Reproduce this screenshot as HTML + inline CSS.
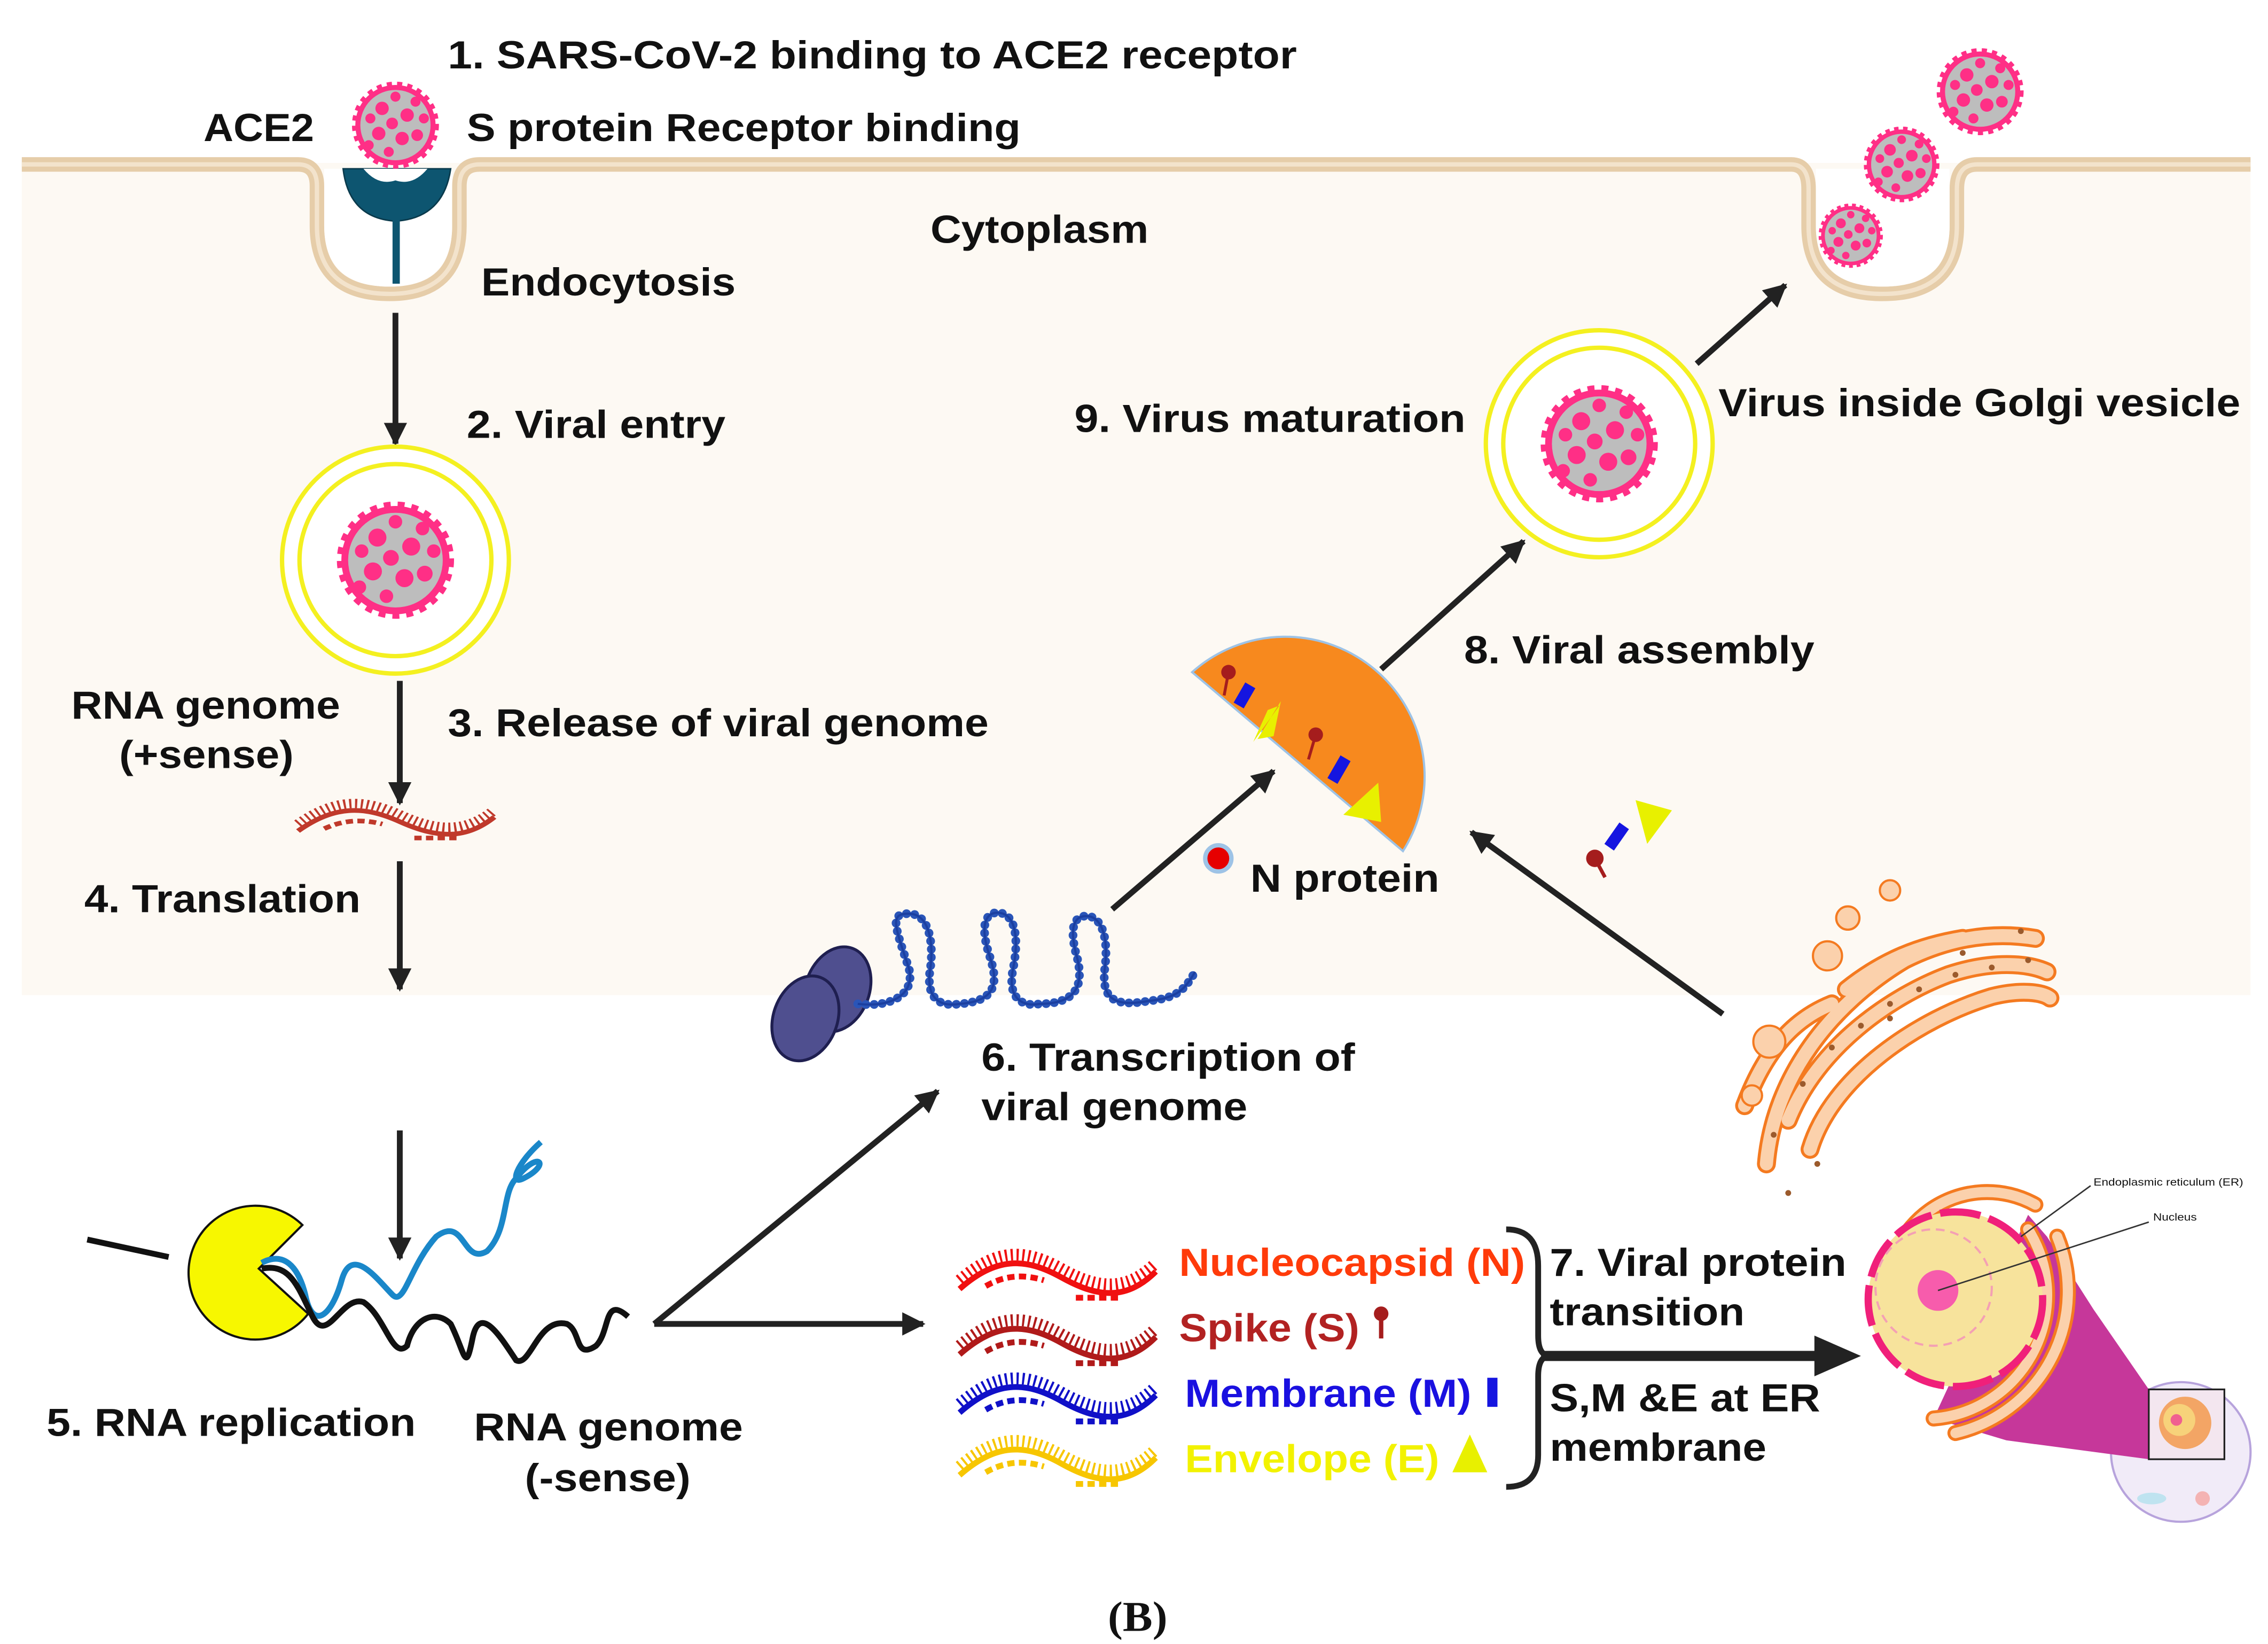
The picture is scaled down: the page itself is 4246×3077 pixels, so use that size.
<!DOCTYPE html>
<html><head><meta charset="utf-8"><style>
html,body{margin:0;padding:0;background:#fff;}
svg{display:block;}
text{font-family:"Liberation Sans",Arial,sans-serif;font-weight:bold;font-size:27px;fill:#111;}
</style></head><body>
<svg width="4246" height="3077" viewBox="0 0 1560 1130" preserveAspectRatio="none" xmlns="http://www.w3.org/2000/svg">
<defs>
<g id="vir">
<circle cx="0" cy="0" r="24" fill="#ff2f86"/>
<circle cx="0" cy="0" r="21" fill="#bdbdbd"/>
<circle cx="-8" cy="-10" r="4" fill="#ff2f86"/><circle cx="7" cy="-6" r="4" fill="#ff2f86"/>
<circle cx="-10" cy="5" r="4" fill="#ff2f86"/><circle cx="4" cy="8" r="4" fill="#ff2f86"/>
<circle cx="13" cy="6" r="3.5" fill="#ff2f86"/><circle cx="-2" cy="-1" r="3.5" fill="#ff2f86"/>
<circle cx="-15" cy="-4" r="3" fill="#ff2f86"/><circle cx="12" cy="-14" r="3" fill="#ff2f86"/>
<circle cx="-4" cy="16" r="3" fill="#ff2f86"/><circle cx="0" cy="-17" r="3" fill="#ff2f86"/>
<circle cx="17" cy="-4" r="3" fill="#ff2f86"/><circle cx="-16" cy="12" r="3" fill="#ff2f86"/>
<circle cx="0" cy="0" r="24" fill="none" stroke="#ff2f86" stroke-width="4" stroke-dasharray="3 3"/>
</g>
<g id="strand">
<path d="M0,14 C25,-8 45,-8 70,6 S115,22 135,2" fill="none" stroke="currentColor" stroke-width="4"/>
<path d="M0,8 C25,-14 45,-14 70,0 S115,16 135,-4" fill="none" stroke="currentColor" stroke-width="8" stroke-dasharray="1.5 2.5"/>
<path d="M18,12 C32,4 45,4 58,8" fill="none" stroke="currentColor" stroke-width="4" stroke-dasharray="5 3"/>
<path d="M80,20 L110,20" fill="none" stroke="currentColor" stroke-width="4" stroke-dasharray="5 3"/>
</g>
<marker id="ah" viewBox="0 0 10 10" refX="9" refY="5" markerWidth="4" markerHeight="4" orient="auto"><path d="M0,0 L10,5 L0,10 Z" fill="#222"/></marker>
</defs>

<rect x="15" y="112" width="1533" height="572" fill="#fdf9f3"/>
<path d="M15,113 H205 Q218,113 218,128 V155 Q218,202 268,202 Q316,202 316,155 V128 Q316,113 330,113 H1232 Q1244,113 1244,130 V155 Q1244,202 1295,202 Q1346,202 1346,155 V130 Q1346,113 1360,113 H1548" fill="none" stroke="#e6cda9" stroke-width="10"/>
<path d="M15,113 H205 Q218,113 218,128 V155 Q218,202 268,202 Q316,202 316,155 V128 Q316,113 330,113 H1232 Q1244,113 1244,130 V155 Q1244,202 1295,202 Q1346,202 1346,155 V130 Q1346,113 1360,113 H1548" fill="none" stroke="#f3e3cc" stroke-width="3"/>
<path d="M223,116 V155 Q223,197 268,197 Q311,197 311,155 V116 Z" fill="#fff"/>
<path d="M1249,116 V155 Q1249,197 1295,197 Q1341,197 1341,155 V116 Z" fill="#fff"/>

<path d="M236,116 L310,116 Q305,150 272,152 Q240,150 236,116 Z" fill="#0d5570" stroke="#0a3a4c" stroke-width="1"/>
<path d="M250,116 Q260,128 272,124 Q284,128 294,116 Z" fill="#fff"/>
<rect x="270" y="150" width="5" height="45" fill="#0d5570"/>
<use href="#vir" transform="translate(272,86) scale(1.15)"/>

<text x="308" y="47" textLength="584" lengthAdjust="spacingAndGlyphs">1.  SARS-CoV-2 binding to ACE2 receptor</text>
<text x="140" y="97" textLength="76" lengthAdjust="spacingAndGlyphs">ACE2</text>
<text x="321" y="97" textLength="381" lengthAdjust="spacingAndGlyphs">S protein Receptor binding</text>
<text x="640" y="167" textLength="150" lengthAdjust="spacingAndGlyphs">Cytoplasm</text>
<text x="331" y="203" textLength="175" lengthAdjust="spacingAndGlyphs">Endocytosis</text>
<text x="321" y="301" textLength="178" lengthAdjust="spacingAndGlyphs">2. Viral entry</text>
<text x="739" y="297" textLength="269" lengthAdjust="spacingAndGlyphs">9. Virus maturation</text>
<text x="1182" y="286" textLength="359" lengthAdjust="spacingAndGlyphs">Virus inside Golgi vesicle</text>
<text x="49" y="494" textLength="185" lengthAdjust="spacingAndGlyphs">RNA genome</text>
<text x="82" y="528" textLength="120" lengthAdjust="spacingAndGlyphs">(+sense)</text>
<text x="308" y="506" textLength="372" lengthAdjust="spacingAndGlyphs">3. Release of viral genome</text>
<text x="1007" y="456" textLength="241" lengthAdjust="spacingAndGlyphs">8. Viral assembly</text>
<text x="58" y="627" textLength="190" lengthAdjust="spacingAndGlyphs">4. Translation</text>
<text x="860" y="613" textLength="130" lengthAdjust="spacingAndGlyphs">N protein</text>
<text x="675" y="736" textLength="257" lengthAdjust="spacingAndGlyphs">6. Transcription of</text>
<text x="675" y="770" textLength="183" lengthAdjust="spacingAndGlyphs">viral genome</text>
<text x="32" y="987" textLength="254" lengthAdjust="spacingAndGlyphs">5. RNA replication</text>
<text x="326" y="990" textLength="185" lengthAdjust="spacingAndGlyphs">RNA genome</text>
<text x="361" y="1025" textLength="114" lengthAdjust="spacingAndGlyphs">(-sense)</text>
<text x="811" y="877" textLength="238" lengthAdjust="spacingAndGlyphs" style="fill:#ff3b0a">Nucleocapsid (N)</text>
<text x="811" y="922" textLength="124" lengthAdjust="spacingAndGlyphs" style="fill:#b22222">Spike (S)</text>
<text x="815" y="967" textLength="197" lengthAdjust="spacingAndGlyphs" style="fill:#1a10e0">Membrane (M)</text>
<text x="815" y="1012" textLength="175" lengthAdjust="spacingAndGlyphs" style="fill:#f2f200">Envelope (E)</text>
<text x="1066" y="877" textLength="204" lengthAdjust="spacingAndGlyphs">7. Viral protein</text>
<text x="1066" y="911" textLength="134" lengthAdjust="spacingAndGlyphs">transition</text>
<text x="1066" y="970" textLength="186" lengthAdjust="spacingAndGlyphs">S,M &amp;E at ER</text>
<text x="1066" y="1004" textLength="149" lengthAdjust="spacingAndGlyphs">membrane</text>
<text x="762" y="1121" style="font-family:'Liberation Serif',serif;font-size:29px" textLength="41" lengthAdjust="spacingAndGlyphs">(B)</text>

<g stroke="#222" stroke-width="4" fill="none" marker-end="url(#ah)">
<line x1="272" y1="215" x2="272" y2="305"/>
<line x1="275" y1="468" x2="275" y2="552"/>
<line x1="275" y1="592" x2="275" y2="680"/>
<line x1="275" y1="777" x2="275" y2="865"/>
<line x1="450" y1="910" x2="645" y2="750"/>
<line x1="450" y1="910" x2="635" y2="910"/>
<line x1="765" y1="625" x2="876" y2="530"/>
<line x1="950" y1="460" x2="1048" y2="372"/>
<line x1="1167" y1="250" x2="1228" y2="196"/>
<line x1="1185" y1="697" x2="1012" y2="572"/>
</g>
<line x1="1060" y1="932" x2="1250" y2="932" stroke="#222" stroke-width="7"/>
<path d="M1248,918 L1280,932 L1248,946 Z" fill="#222"/>

<circle cx="272" cy="385" r="78" fill="#fff" stroke="#f4f020" stroke-width="3"/>
<circle cx="272" cy="385" r="66" fill="none" stroke="#f4f020" stroke-width="3"/>
<use href="#vir" transform="translate(272,385) scale(1.55)"/>
<circle cx="1100" cy="305" r="78" fill="#fff" stroke="#f4f020" stroke-width="3"/>
<circle cx="1100" cy="305" r="66" fill="none" stroke="#f4f020" stroke-width="3"/>
<use href="#vir" transform="translate(1100,305) scale(1.55)"/>
<use href="#vir" transform="translate(1273,162) scale(0.85)"/>
<use href="#vir" transform="translate(1308,113) scale(1.0)"/>
<use href="#vir" transform="translate(1362,63) scale(1.15)"/>

<g style="color:#c0392b"><use href="#strand" transform="translate(205,560) scale(1.0,0.8)"/></g>

<line x1="60" y1="852" x2="116" y2="864" stroke="#111" stroke-width="4"/>
<path d="M208,842 A46,46 0 1 0 212,903 L178,872 Z" fill="#f7f700" stroke="#111" stroke-width="1.5"/>
<path d="M180,868 C195,860 205,870 210,890 C215,915 228,905 235,880 C242,855 260,880 270,890 C278,898 282,870 300,850 C320,835 318,870 335,860 C350,845 345,820 355,810 C370,790 380,800 360,810 C350,815 355,800 372,785" fill="none" stroke="#1a87c9" stroke-width="4"/>
<path d="M180,872 C200,868 205,885 215,905 C225,925 235,890 250,895 C265,905 270,935 280,925 C285,905 300,900 310,910 C320,930 320,945 325,920 C330,895 345,920 355,935 C365,940 370,905 390,910 C400,915 395,935 410,925 C420,915 415,890 432,905" fill="none" stroke="#111" stroke-width="4"/>

<ellipse cx="576" cy="680" rx="22" ry="30" transform="rotate(20 576 680)" fill="#4f4f8f" stroke="#1f1f50" stroke-width="2"/>
<ellipse cx="554" cy="700" rx="22" ry="30" transform="rotate(20 554 700)" fill="#4f4f8f" stroke="#1f1f50" stroke-width="2"/>
<path d="M590,690 C615,693 630,682 625,665 C615,635 612,628 625,628 C640,628 642,650 640,665 C636,688 648,692 660,690 C690,688 685,670 680,655 C673,632 680,625 690,628 C700,632 700,650 697,665 C692,688 705,692 715,690 C745,690 745,672 740,655 C735,635 740,628 750,630 C760,633 762,650 760,665 C757,688 768,692 790,688 C810,686 815,680 822,668" fill="none" stroke="#2a55b8" stroke-width="6" stroke-dasharray="0.1 5.5" stroke-linecap="round"/>
<path d="M590,690 C615,693 630,682 625,665 C615,635 612,628 625,628 C640,628 642,650 640,665 C636,688 648,692 660,690 C690,688 685,670 680,655 C673,632 680,625 690,628 C700,632 700,650 697,665 C692,688 705,692 715,690 C745,690 745,672 740,655 C735,635 740,628 750,630 C760,633 762,650 760,665 C757,688 768,692 790,688 C810,686 815,680 822,668" fill="none" stroke="#1b3fa0" stroke-width="1.5"/>

<path d="M820,462 A96,96 0 0 1 965,585 Z" fill="#f7891e" stroke="#9ec3e6" stroke-width="1.5"/>
<rect x="852" y="470" width="8" height="16" fill="#1515e0" transform="rotate(30 856 478)"/>
<path d="M862,510 L880,485 L872,488 Z M865,508 L881,482 L876,506 Z" fill="#e8f000"/>
<rect x="917" y="520" width="8" height="18" fill="#1515e0" transform="rotate(30 921 529)"/>
<path d="M924,560 L948,538 L950,565 Z" fill="#e8f000"/>
<circle cx="845" cy="462" r="5" fill="#a51d1d"/><line x1="845" y1="462" x2="842" y2="478" stroke="#a51d1d" stroke-width="2"/>
<circle cx="905" cy="505" r="5" fill="#a51d1d"/><line x1="905" y1="505" x2="900" y2="522" stroke="#a51d1d" stroke-width="2"/>
<circle cx="838" cy="590" r="9" fill="#e60000" stroke="#9ec3e6" stroke-width="3"/>
<path d="M1125,550 L1150,557 L1133,580 Z" fill="#e8f000"/>
<rect x="1108" y="566" width="8" height="18" fill="#1515e0" transform="rotate(35 1112 575)"/>
<circle cx="1097" cy="590" r="6" fill="#a51d1d"/><line x1="1097" y1="590" x2="1104" y2="603" stroke="#a51d1d" stroke-width="2.5"/>

<g fill="none" stroke-linecap="round">
<g stroke="#f47a20" stroke-width="13">
<path d="M1215,800 C1220,740 1260,690 1310,660 C1340,645 1370,640 1400,645"/>
<path d="M1230,770 C1250,720 1300,685 1340,670 C1370,660 1395,662 1408,668"/>
<path d="M1245,790 C1260,740 1320,700 1370,685 C1390,680 1405,682 1410,686"/>
<path d="M1200,760 C1215,720 1235,700 1260,690"/>
<path d="M1270,680 C1295,660 1320,650 1350,645"/>
</g>
<g stroke="#fbd1ac" stroke-width="9">
<path d="M1215,800 C1220,740 1260,690 1310,660 C1340,645 1370,640 1400,645"/>
<path d="M1230,770 C1250,720 1300,685 1340,670 C1370,660 1395,662 1408,668"/>
<path d="M1245,790 C1260,740 1320,700 1370,685 C1390,680 1405,682 1410,686"/>
<path d="M1200,760 C1215,720 1235,700 1260,690"/>
<path d="M1270,680 C1295,660 1320,650 1350,645"/>
</g>
</g>
<g fill="#fbd1ac" stroke="#f47a20" stroke-width="1.5">
<circle cx="1271" cy="631" r="8"/><circle cx="1257" cy="657" r="10"/><circle cx="1217" cy="716" r="11"/><circle cx="1205" cy="753" r="7"/><circle cx="1300" cy="612" r="7"/>
</g>
<g fill="#9b5a2c">
<circle cx="1220" cy="780" r="2"/><circle cx="1240" cy="745" r="2"/><circle cx="1260" cy="720" r="2"/><circle cx="1280" cy="705" r="2"/><circle cx="1300" cy="690" r="2"/><circle cx="1320" cy="680" r="2"/><circle cx="1345" cy="670" r="2"/><circle cx="1370" cy="665" r="2"/><circle cx="1395" cy="660" r="2"/><circle cx="1230" cy="820" r="2"/><circle cx="1250" cy="800" r="2"/><circle cx="1300" cy="700" r="2"/><circle cx="1350" cy="655" r="2"/><circle cx="1390" cy="640" r="2"/>
</g>

<g style="color:#f01010"><use href="#strand" transform="translate(660,872)"/></g>
<g style="color:#b01a1a"><use href="#strand" transform="translate(660,917)"/></g>
<g style="color:#1010c8"><use href="#strand" transform="translate(660,957)"/></g>
<g style="color:#f7c600"><use href="#strand" transform="translate(660,1000)"/></g>
<circle cx="950" cy="903" r="5" fill="#a51d1d"/><line x1="950" y1="903" x2="950" y2="920" stroke="#a51d1d" stroke-width="3"/>
<rect x="1023" y="947" width="7" height="20" fill="#1515e0"/>
<path d="M999,1012 L1011,986 L1023,1012 Z" fill="#e8f000"/>

<path d="M1036,845 Q1058,845 1058,870 V918 Q1058,932 1066,932 Q1058,932 1058,946 V1000 Q1058,1022 1036,1022" fill="none" stroke="#222" stroke-width="4"/>

<circle cx="1500" cy="998" r="48" fill="#f1ebf8" stroke="#b7a3dc" stroke-width="1.5"/>
<ellipse cx="1480" cy="1030" rx="10" ry="4" fill="#bfe3f0"/>
<circle cx="1515" cy="1030" r="5" fill="#f4b3b3"/>
<path d="M1395,835 L1408,850 L1440,900 L1478,955 L1478,1003 L1380,990 L1330,975 Z" fill="#c6379a"/>
<rect x="1478" y="955" width="52" height="48" fill="#f3e6ef" stroke="#222" stroke-width="1.2"/>
<circle cx="1503" cy="978" r="18" fill="#f3a565"/>
<circle cx="1499" cy="976" r="11" fill="#f7d27a"/>
<circle cx="1497" cy="976" r="4" fill="#f06090"/>
<g fill="none" stroke-linecap="round">
<path d="M1300,900 A68,68 0 0 1 1400,828" stroke="#f47a20" stroke-width="11"/>
<path d="M1300,900 A68,68 0 0 1 1400,828" stroke="#fbd1ac" stroke-width="7"/>
<path d="M1395,845 A85,85 0 0 1 1330,975" stroke="#f47a20" stroke-width="11"/>
<path d="M1395,845 A85,85 0 0 1 1330,975" stroke="#fbd1ac" stroke-width="7"/>
<path d="M1415,850 A100,100 0 0 1 1345,985" stroke="#f47a20" stroke-width="11"/>
<path d="M1415,850 A100,100 0 0 1 1345,985" stroke="#fbd1ac" stroke-width="7"/>
</g>
<circle cx="1345" cy="893" r="60" fill="#f7e39c" stroke="#f0207a" stroke-width="5" stroke-dasharray="28 6"/>
<circle cx="1330" cy="885" r="40" fill="none" stroke="#f4a0b4" stroke-width="1.5" stroke-dasharray="6 4"/>
<circle cx="1333" cy="887" r="14" fill="#f75cac"/>
<line x1="1333" y1="887" x2="1478" y2="840" stroke="#333" stroke-width="1"/>
<line x1="1390" y1="850" x2="1438" y2="815" stroke="#333" stroke-width="1"/>
<text x="1440" y="815" style="font-size:7px;font-weight:normal" textLength="103" lengthAdjust="spacingAndGlyphs">Endoplasmic reticulum (ER)</text>
<text x="1481" y="839" style="font-size:7px;font-weight:normal" textLength="30" lengthAdjust="spacingAndGlyphs">Nucleus</text>
</svg>
</body></html>
